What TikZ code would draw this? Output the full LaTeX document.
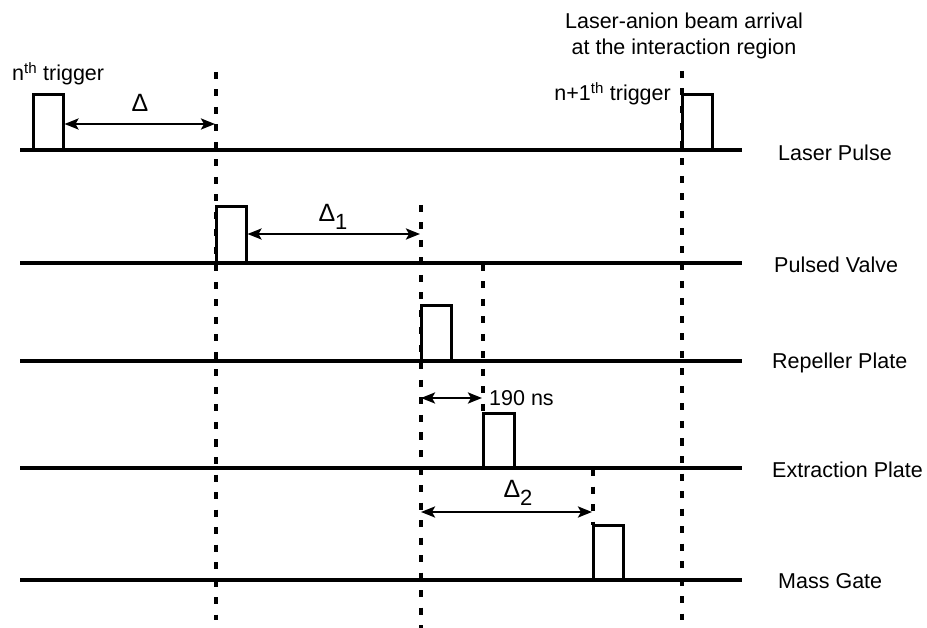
\documentclass[tikz,border=0pt]{standalone}
\usepackage{fontspec}
\setmainfont{Liberation Sans}
\usetikzlibrary{arrows.meta}
\begin{document}
\begin{tikzpicture}[x=1pt,y=-1pt,
  base/.style={line width=3.5pt},
  pulse/.style={line width=3pt, line join=miter},
  vdash/.style={line width=3.4pt, dash pattern=on 7pt off 10.5pt},
  span/.style={line width=2.4pt, {Stealth[length=14pt,width=11pt,inset=3pt]}-{Stealth[length=14pt,width=11pt,inset=3pt]}},
  lab/.style={font=\fontsize{21.5}{26}\selectfont, inner sep=0pt},
  dlab/.style={font=\fontsize{25}{30}\selectfont, inner sep=0pt}]
\useasboundingbox (0,0) rectangle (927,628);
% dashed markers
\draw[vdash] (216,72) -- (216,620);
\draw[vdash] (421,205) -- (421,628);
\draw[vdash] (682,71) -- (682,620);
\draw[vdash] (483,264) -- (483,414);
\draw[vdash] (593,469) -- (593,525);
% baselines
\draw[base] (20,150) -- (742,150);
\draw[base] (20,263) -- (742,263);
\draw[base] (20,361) -- (742,361);
\draw[base] (20,468) -- (742,468);
\draw[base] (20,580) -- (742,580);
% pulses
\draw[pulse] (33,150) -- (33,95) -- (63,95) -- (63,150);
\draw[pulse] (682,150) -- (682,95) -- (712,95) -- (712,150);
\draw[pulse] (216,263) -- (216,207) -- (246,207) -- (246,263);
\draw[pulse] (421,361) -- (421,306) -- (451,306) -- (451,361);
\draw[pulse] (483,468) -- (483,414) -- (514,414) -- (514,468);
\draw[pulse] (593,580) -- (593,525) -- (623,525) -- (623,580);
% arrow end points
\coordinate (d0a) at (64.5,124);  \coordinate (d0b) at (215,124);
\coordinate (d1a) at (247.5,234); \coordinate (d1b) at (420,234);
\coordinate (d3a) at (421,398);   \coordinate (d3b) at (482,398);
\coordinate (d2a) at (421,512);   \coordinate (d2b) at (592,512);
\draw[span] (d0a) -- (d0b);
\draw[span] (d1a) -- (d1b);
\draw[span] (d3a) -- (d3b);
\draw[span] (d2a) -- (d2b);
% labels
\node[dlab] (dl0) at (140,103) {Δ};
\node[dlab] (dl1) at (333,217) {Δ\raisebox{-8pt}{\fontsize{22}{26}\selectfont 1}};
\node[dlab] (dl2) at (518,493) {Δ\raisebox{-8pt}{\fontsize{22}{26}\selectfont 2}};
\node[lab, anchor=west] (ns) at (489,398) {190 ns};
\node[lab, anchor=west] (trg1) at (12,74) {n\textsuperscript{th} trigger};
\node[lab, anchor=east] (trg2) at (671,94) {n+1\textsuperscript{th} trigger};
\node[lab, align=center, font=\fontsize{21.5}{26}\selectfont] (arr) at (684,36) {Laser-anion beam arrival\\at the interaction region};
\node[lab, anchor=west] (lp) at (778,153) {Laser Pulse};
\node[lab, anchor=west] (pv) at (774,265) {Pulsed Valve};
\node[lab, anchor=west] (rp) at (772,363) {Repeller Plate};
\node[lab, anchor=west] (ep) at (772,470) {Extraction Plate};
\node[lab, anchor=west] (mg) at (778,581) {Mass Gate};
\end{tikzpicture}
\end{document}
